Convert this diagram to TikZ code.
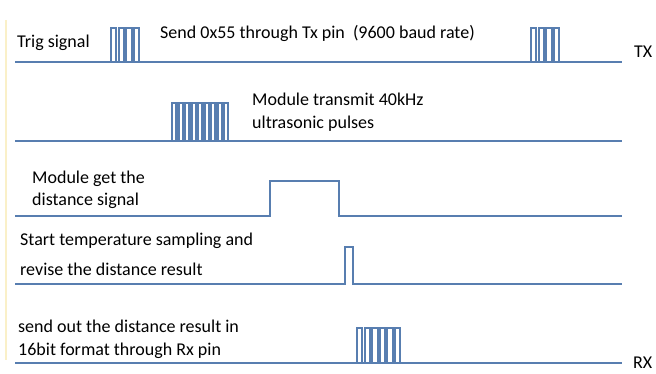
\documentclass[tikz,border=0pt]{standalone}
\usepackage{fontspec}
\setmainfont{Carlito}
\definecolor{wave}{RGB}{88,126,176}
\definecolor{edge}{RGB}{250,240,200}
\begin{document}
\begin{tikzpicture}[x=1pt,y=-1pt,
  wave/.style={draw=wave, line width=2.7pt},
  burst/.style={draw=wave, line width=2.1pt, line join=miter},
  lbl/.style={anchor=base west, inner sep=0pt, font=\fontsize{18}{22}\selectfont}]
  \useasboundingbox (0,0) rectangle (656,374);
  \draw[edge, line width=1.2pt] (6,20) -- (6,360);

  % TX line with two trig bursts
  \draw[wave] (15,62) -- (622,62);
  \draw[burst] (111,62) foreach \i in {1,...,4} { -- ++(0,-34) -- ++(5.4,0) -- ++(0,34) -- ++(2.2,0) };
  \draw[burst] (531,62) foreach \i in {1,...,4} { -- ++(0,-34) -- ++(5.4,0) -- ++(0,34) -- ++(2.2,0) };
  \node[lbl] (trig) at (17,48) {Trig signal};
  \node[lbl] (send) at (160,39) {Send 0x55 through Tx pin\ \ (9600 baud rate)};
  \node[lbl] (tx) at (634,58) {TX};

  % ultrasonic pulses
  \draw[wave] (15,141) -- (622,141);
  \draw[burst] (172,141) foreach \i in {1,...,9} { -- ++(0,-38) -- ++(4.4,0) -- ++(0,38) -- ++(2.1,0) };
  \node[lbl] (ultra) at (252,106) {Module transmit 40kHz};
  \node[lbl] (ultra2) at (252,129) {ultrasonic pulses};

  % distance signal
  \draw[wave] (15,216) -- (270,216) -- (270,181) -- (339,181) -- (339,216) -- (622,216);
  \node[lbl] (getdist) at (32,184) {Module get the};
  \node[lbl] (getdist2) at (32,206) {distance signal};

  % temperature sampling
  \draw[wave] (15,284) -- (345,284) -- (345,247) -- (353,247) -- (353,284) -- (622,284);
  \node[lbl] (temp) at (20,246) {Start temperature sampling and};
  \node[lbl] (temp2) at (20,276) {revise the distance result};

  % RX line with result burst
  \draw[wave] (15,363) -- (622,363);
  \draw[burst] (357,363) foreach \i in {1,...,6} { -- ++(0,-35) -- ++(5.4,0) -- ++(0,35) -- ++(2.2,0) };
  \node[lbl] (sendout) at (18,332) {send out the distance result in};
  \node[lbl] (sendout2) at (18,355) {16bit format through Rx pin};
  \node[lbl] (rx) at (633,368) {RX};
\end{tikzpicture}
\end{document}
